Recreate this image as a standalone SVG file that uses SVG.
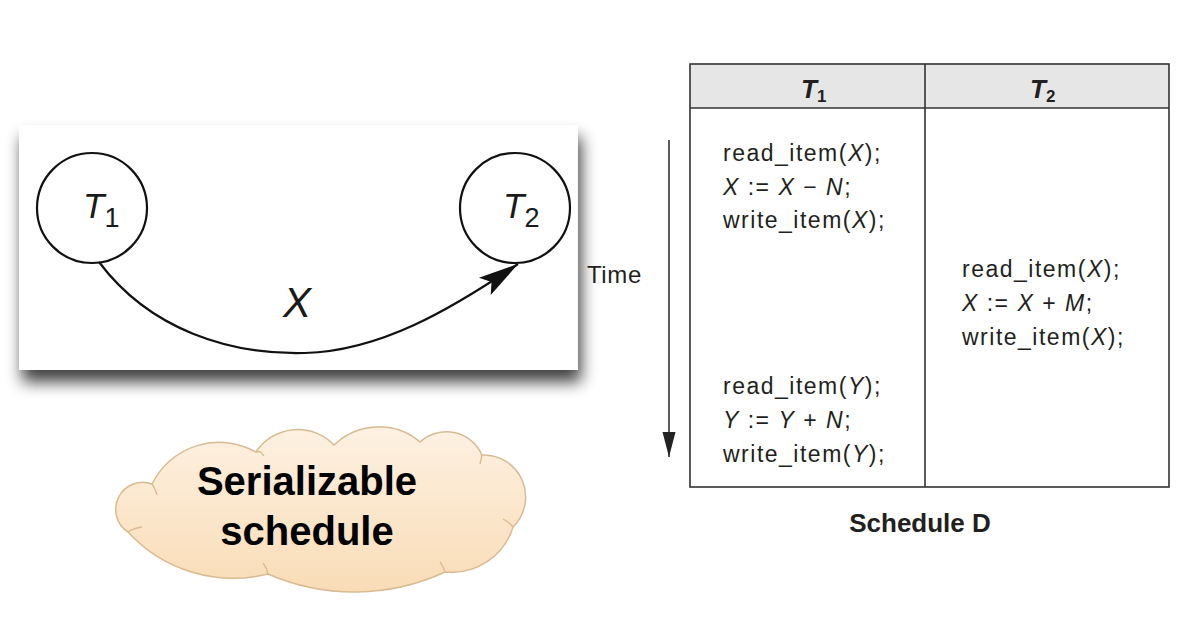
<svg xmlns="http://www.w3.org/2000/svg" width="1186" height="621" viewBox="0 0 1186 621">
  <defs>
    <style>
      .graph-line { fill: none; stroke: #111; stroke-width: 2.2; }
      .graph-label { font-family: "Liberation Sans", Arial, sans-serif; font-style: italic; fill: #1a1a1a; }
      .cell { font-family: "Liberation Sans", Arial, sans-serif; font-size: 23px; letter-spacing: 1.5px; fill: #231f20; }
      .it { font-style: italic; }
      .grid { fill: none; stroke: #333; stroke-width: 1.6; }
      .head { font-family: "Liberation Sans", Arial, sans-serif; font-size: 26px; font-weight: bold; font-style: italic; fill: #231f20; }
      .sub { font-style: normal; font-size: 17px; }
      .caption { font-family: "Liberation Sans", Arial, sans-serif; font-weight: bold; fill: #231f20; }
      .cloud-text { font-family: "Liberation Sans", Arial, sans-serif; font-weight: bold; font-size: 40px; fill: #000; }
      .cloud-edge { fill: none; stroke: #d8bb93; stroke-width: 1.3; }
    </style>
    <filter id="panelShadow" x="-10%" y="-15%" width="125%" height="145%">
      <feGaussianBlur in="SourceAlpha" stdDeviation="8"/>
      <feOffset dx="3" dy="12" result="blur"/>
      <feComponentTransfer><feFuncA type="linear" slope="0.75"/></feComponentTransfer>
      <feMerge><feMergeNode/><feMergeNode in="SourceGraphic"/></feMerge>
    </filter>
    <linearGradient id="cloudFill" x1="0" y1="0" x2="0" y2="1">
      <stop offset="0" stop-color="#fdf1e2"/>
      <stop offset="1" stop-color="#f9dcb6"/>
    </linearGradient>
    <marker id="bigHead" viewBox="-42 -12 44 24" refX="0" refY="0" markerWidth="44" markerHeight="24" markerUnits="userSpaceOnUse" orient="auto">
      <path d="M0,0 L-40,-10.5 L-32,0 L-40,10.5 Z" fill="#111"/>
    </marker>
    <marker id="timeHead" viewBox="-26 -8 28 16" refX="0" refY="0" markerWidth="28" markerHeight="16" markerUnits="userSpaceOnUse" orient="auto">
      <path d="M0,0 L-25,-6.5 L-25,6.5 Z" fill="#222"/>
    </marker>
  </defs>

  <rect width="1186" height="621" fill="#ffffff"/>

  <!-- precedence graph panel -->
  <rect x="19" y="125" width="559" height="245" fill="#ffffff" filter="url(#panelShadow)"/>

  <g id="node-T1">
    <circle class="graph-line" cx="92" cy="208" r="55"/>
    <text class="graph-label" x="83" y="218" font-size="35">T<tspan font-style="normal" font-size="27" dy="9">1</tspan></text>
  </g>

  <g id="node-T2">
    <circle class="graph-line" cx="515" cy="208" r="55"/>
    <text class="graph-label" x="503" y="218" font-size="35">T<tspan font-style="normal" font-size="27" dy="9">2</tspan></text>
  </g>

  <g id="connectors">
    <path class="graph-line" d="M99,262 C150,330 230,355 305,353 C380,351 450,310 518,264" marker-end="url(#bigHead)"/>
    <text class="graph-label" x="283" y="317" font-size="42">X</text>
  </g>

  <!-- cloud callout -->
  <g id="cloud">
    <path d="M152,484 A75,75 0 0 1 256,452 A50,50 0 0 1 334,445 A64,64 0 0 1 420,442 A39,39 0 0 1 482,455 A42,42 0 0 1 513,527 A64,64 0 0 1 445,572 A216,216 0 0 1 268,574 A143,143 0 0 1 128,532 A27,27 0 0 1 152,484 Z" fill="url(#cloudFill)" stroke="#d8bb93" stroke-width="1.5"/>
    <path class="cloud-edge" d="M152,484 Q155,488 157,495"/>
    <path class="cloud-edge" d="M256,452 Q260,450 264,456"/>
    <path class="cloud-edge" d="M482,455 Q481,460 480,464"/>
    <path class="cloud-edge" d="M513,527 Q509,522 503,519"/>
    <path class="cloud-edge" d="M445,572 Q443,566 440,562"/>
    <path class="cloud-edge" d="M268,574 Q267,568 263,563"/>
    <path class="cloud-edge" d="M128,532 Q134,528 142,527"/>
    <text class="cloud-text" x="307" y="495" text-anchor="middle">Serializable</text>
    <text class="cloud-text" x="307" y="545" text-anchor="middle">schedule</text>
  </g>

  <!-- schedule table -->
  <g id="schedule-table">
    <rect x="690" y="64" width="235" height="44" fill="#e6e6e6"/>
    <rect x="925" y="64" width="244" height="44" fill="#e6e6e6"/>
    <rect class="grid" x="690" y="64" width="479" height="423"/>
    <line class="grid" x1="690" y1="108" x2="1169" y2="108"/>
    <line class="grid" x1="925" y1="64" x2="925" y2="487"/>
    <text class="head" x="801" y="98">T<tspan class="sub" dy="4">1</tspan></text>
    <text class="head" x="1030" y="98">T<tspan class="sub" dy="4">2</tspan></text>
  </g>

  <g id="T1-ops-X">
    <text class="cell" x="723" y="161">read_item(<tspan class="it">X</tspan>);</text>
    <text class="cell" x="723" y="195"><tspan class="it">X</tspan> := <tspan class="it">X</tspan> − <tspan class="it">N</tspan>;</text>
    <text class="cell" x="723" y="228">write_item(<tspan class="it">X</tspan>);</text>
  </g>

  <g id="T2-ops-X">
    <text class="cell" x="962" y="277">read_item(<tspan class="it">X</tspan>);</text>
    <text class="cell" x="962" y="311"><tspan class="it">X</tspan> := <tspan class="it">X</tspan> + <tspan class="it">M</tspan>;</text>
    <text class="cell" x="962" y="345">write_item(<tspan class="it">X</tspan>);</text>
  </g>

  <g id="T1-ops-Y">
    <text class="cell" x="723" y="394">read_item(<tspan class="it">Y</tspan>);</text>
    <text class="cell" x="723" y="428"><tspan class="it">Y</tspan> := <tspan class="it">Y</tspan> + <tspan class="it">N</tspan>;</text>
    <text class="cell" x="723" y="462">write_item(<tspan class="it">Y</tspan>);</text>
  </g>

  <g id="time-axis">
    <line x1="669" y1="140" x2="669" y2="457" stroke="#333" stroke-width="1.6" marker-end="url(#timeHead)"/>
    <text class="cell" x="587" y="283" style="font-size:24px;letter-spacing:0.6px">Time</text>
  </g>

  <text class="caption" x="920" y="532" font-size="26" text-anchor="middle">Schedule D</text>
</svg>
